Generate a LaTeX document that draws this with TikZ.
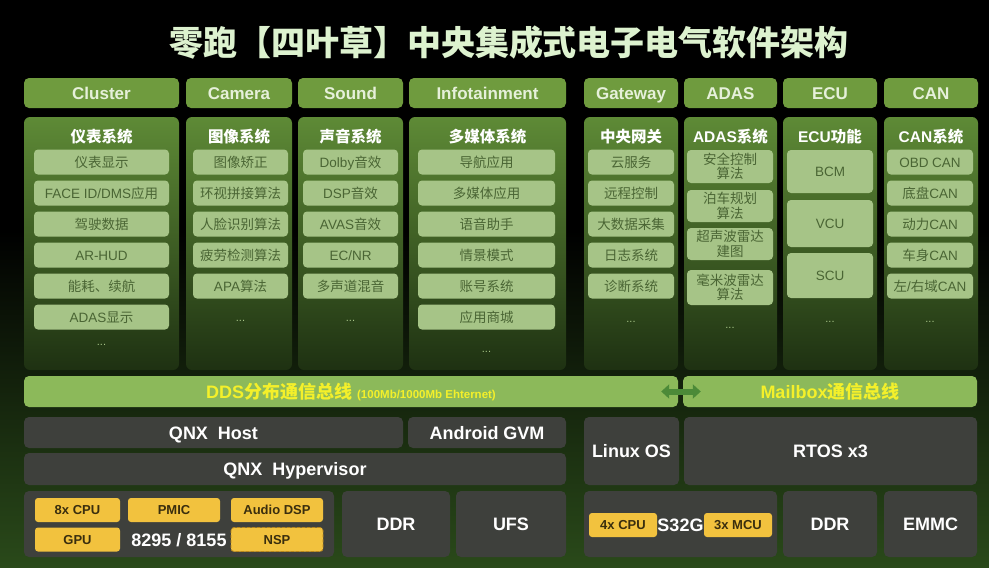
\documentclass[tikz,border=0pt]{standalone}
\usepackage{fontspec}
\setmainfont{Liberation Sans}
\newfontfamily\cjk{Noto Sans CJK SC}
\usetikzlibrary{arrows.meta}

%% han characters switch to the cjk font by themselves
\XeTeXinterchartokenstate=1
\newcount\hanchar
\hanchar="3000
\loop\XeTeXcharclass\hanchar=7 \advance\hanchar by 1 \ifnum\hanchar<"A000 \repeat
\hanchar="FF00
\loop\XeTeXcharclass\hanchar=7 \advance\hanchar by 1 \ifnum\hanchar<"FFF0 \repeat
\XeTeXinterchartoks 0 7 = {\cjk}
\XeTeXinterchartoks 4095 7 = {\cjk}
\XeTeXinterchartoks 7 0 = {\rmfamily}
\XeTeXinterchartoks 7 4095 = {\rmfamily}

\definecolor{titlemint}{HTML}{DDF2CF}
\definecolor{hdrgreen}{HTML}{6F9B3E}
\definecolor{hdrtext}{HTML}{E6F0DA}
\definecolor{coltop}{HTML}{5E8A36}
\definecolor{colbot}{HTML}{1E3112}
\definecolor{itemfill}{HTML}{A6C487}
\definecolor{itemtext}{HTML}{4A6534}
\definecolor{busgreen}{HTML}{8CB95A}
\definecolor{busyellow}{HTML}{F4F02A}
\definecolor{arrowgreen}{HTML}{4C8A38}
\definecolor{osgray}{HTML}{3E403C}
\definecolor{chipyellow}{HTML}{F2C23E}
\definecolor{chipedge}{HTML}{B8861A}
\definecolor{chiptext}{HTML}{3A2E0E}
\definecolor{bggreen}{HTML}{2A4A1A}

\begin{document}
\begin{tikzpicture}
[x=1pt,y=-1pt,%
  maintitle/.style={text=titlemint,font=\fontsize{34}{36}\selectfont\bfseries},%
  header/.style={rectangle,rounded corners=5pt,fill=hdrgreen,text=hdrtext,inner sep=0pt,minimum height=30pt,text height=15.5pt,text depth=3.5pt,font=\fontsize{17}{20}\selectfont\bfseries},%
  colbody/.style={rectangle,rounded corners=6pt,top color=coltop,bottom color=colbot,inner sep=0pt,minimum height=253pt},%
  coltitle/.style={text=white,font=\fontsize{15.5}{18}\selectfont\bfseries},%
  itembox/.style={rectangle,rounded corners=4pt,fill=itemfill,text=itemtext,inner sep=0pt,minimum height=25pt,font=\fontsize{13.5}{14.5}\selectfont},%
  item/.style={itembox,text height=12.5pt,text depth=2.3pt},%
  itemtwo/.style={itembox,align=center},%
  more/.style={text=itemfill,font=\fontsize{11}{12}\selectfont},%
  bus/.style={rectangle,rounded corners=5pt,fill=busgreen,text=busyellow,inner sep=0pt,minimum height=31pt,font=\fontsize{18}{20}\selectfont\bfseries},%
  busarrow/.style={{Triangle[length=8pt,width=14pt]}-{Triangle[length=8pt,width=14pt]},line width=6pt,draw=arrowgreen},%
  osbox/.style={rectangle,rounded corners=5pt,fill=osgray,text=white,inner sep=0pt,text height=16pt,text depth=3pt,font=\fontsize{18}{20}\selectfont\bfseries},%
  chip/.style={rectangle,rounded corners=3pt,fill=chipyellow,text=chiptext,inner sep=0pt,minimum height=24pt,text height=12pt,text depth=2.7pt,font=\fontsize{13}{14}\selectfont\bfseries}]
\useasboundingbox (0,0) rectangle (989,568);
%% background
\fill[black] (0,0) rectangle (989,568);
\shade[top color=black,bottom color=bggreen] (0,230) rectangle (989,568);
%% title
\node[maintitle] (title) at (509,43) {零跑【四叶草】中央集成式电子电气软件架构};
%% headers and column bodies
\foreach \n/\x/\w/\head/\sys in {
  cl/101.5/155/Cluster/仪表系统, cam/239/106/Camera/图像系统,
  snd/350.5/105/Sound/声音系统, info/487.5/157/Infotainment/多媒体系统,
  gw/631/94/Gateway/中央网关, adas/730.5/93/ADAS/ADAS系统,
  ecu/830/94/ECU/ECU功能, can/931/94/CAN/CAN系统}
{
  \node[header,minimum width=\w pt] (\n-head) at (\x,93) {\head};
  \node[colbody,minimum width=\w pt] (\n-body) at (\x,243.5) {};
  \node[coltitle] (\n-title) at (\x,137) {\sys};
}
%% one line items
\foreach \n/\x/\w/\yd/\items in {
  cl/101.5/135/345/{仪表显示,FACE ID/DMS应用,驾驶数据,AR-HUD,能耗、续航,ADAS显示},
  cam/240.5/95/321/{图像矫正,环视拼接算法,人脸识别算法,疲劳检测算法,APA算法},
  snd/350.5/95/321/{Dolby音效,DSP音效,AVAS音效,EC/NR,多声道混音},
  info/486.5/137/352/{导航应用,多媒体应用,语音助手,情景模式,账号系统,应用商城},
  gw/631/86/322/{云服务,远程控制,大数据采集,日志系统,诊断系统},
  can/930/86/322/{OBD CAN,底盘CAN,动力CAN,车身CAN,左/右域CAN}}
{
  \foreach \t [count=\i] in \items
    \node[item,minimum width=\w pt] (\n-\i) at (\x,{131+31*\i}) {\t};
  \node[more] (\n-more) at (\x,\yd) {...};
}
%% ADAS and ECU items
\foreach \t/\y/\h [count=\i] in {{安全控制\\算法}/166.5/33, {泊车规划\\算法}/206/32,
  {超声波雷达\\建图}/244/32, {毫米波雷达\\算法}/287.5/35}
  \node[itemtwo,minimum width=86pt,minimum height=\h pt] (adas-\i) at (730,\y) {\t};
\node[more] (adas-more) at (730,328) {...};
\foreach \t/\y/\h [count=\i] in {BCM/171.5/43, VCU/223.5/47, SCU/275.5/45}
  \node[item,minimum width=86pt,minimum height=\h pt] (ecu-\i) at (830,\y) {\t};
\node[more] (ecu-more) at (830,322) {...};
%% buses
\node[bus,minimum width=654pt] (dds) at (351,391.5)
  {DDS分布通信总线 {\fontsize{11.5}{12}\selectfont(100Mb/1000Mb Ehternet)}};
\node[bus,minimum width=294pt] (mail) at (830,391.5) {Mailbox通信总线};
\draw[busarrow] ([xshift=-17pt]dds.east) -- ([xshift=18pt]mail.west);
%% operating systems
\node[osbox,minimum width=379pt,minimum height=31pt] (qnxhost) at (213.5,432.5) {QNX\ \ Host};
\node[osbox,minimum width=158pt,minimum height=31pt] (android) at (487,432.5) {Android GVM};
\node[osbox,minimum width=542pt,minimum height=32pt] (hyper) at (295,469) {QNX\ \ Hypervisor};
\node[osbox,minimum width=95pt,minimum height=68pt] (linux) at (631.5,451) {Linux OS};
\node[osbox,minimum width=293pt,minimum height=68pt] (rtos) at (830.5,451) {RTOS x3};
%% hardware
\node[osbox,minimum width=310pt,minimum height=66pt] (soc) at (179,524) {};
\node[osbox,minimum width=108pt,minimum height=66pt] (ddr) at (396,524) {DDR};
\node[osbox,minimum width=110pt,minimum height=66pt] (ufs) at (511,524) {UFS};
\node[osbox,minimum width=193pt,minimum height=66pt] (s32) at (680.5,524) {};
\node[osbox,minimum width=94pt,minimum height=66pt] (ddrb) at (830,524) {DDR};
\node[osbox,minimum width=93pt,minimum height=66pt] (emmc) at (930.5,524) {EMMC};
%% chips
\foreach \n/\x/\y/\w/\t in {cpu/77.5/510/85/8x CPU, pmic/174/510/92/PMIC, dsp/277/510/92/Audio DSP,
  gpu/77.5/539.5/85/GPU, cpub/623/525/68/4x CPU, mcu/738/525/68/3x MCU}
  \node[chip,minimum width=\w pt] (\n) at (\x,\y) {\t};
\node[chip,minimum width=92pt,draw=chipedge,densely dashed,line width=0.8pt] (nsp) at (277,539.5) {NSP};
\node[text=white,font=\fontsize{18}{20}\selectfont\bfseries] (socname) at (179,540) {8295 / 8155};
\node[text=white,font=\fontsize{18}{20}\selectfont\bfseries] (s32name) at (680.5,525) {S32G};
\end{tikzpicture}
\end{document}
